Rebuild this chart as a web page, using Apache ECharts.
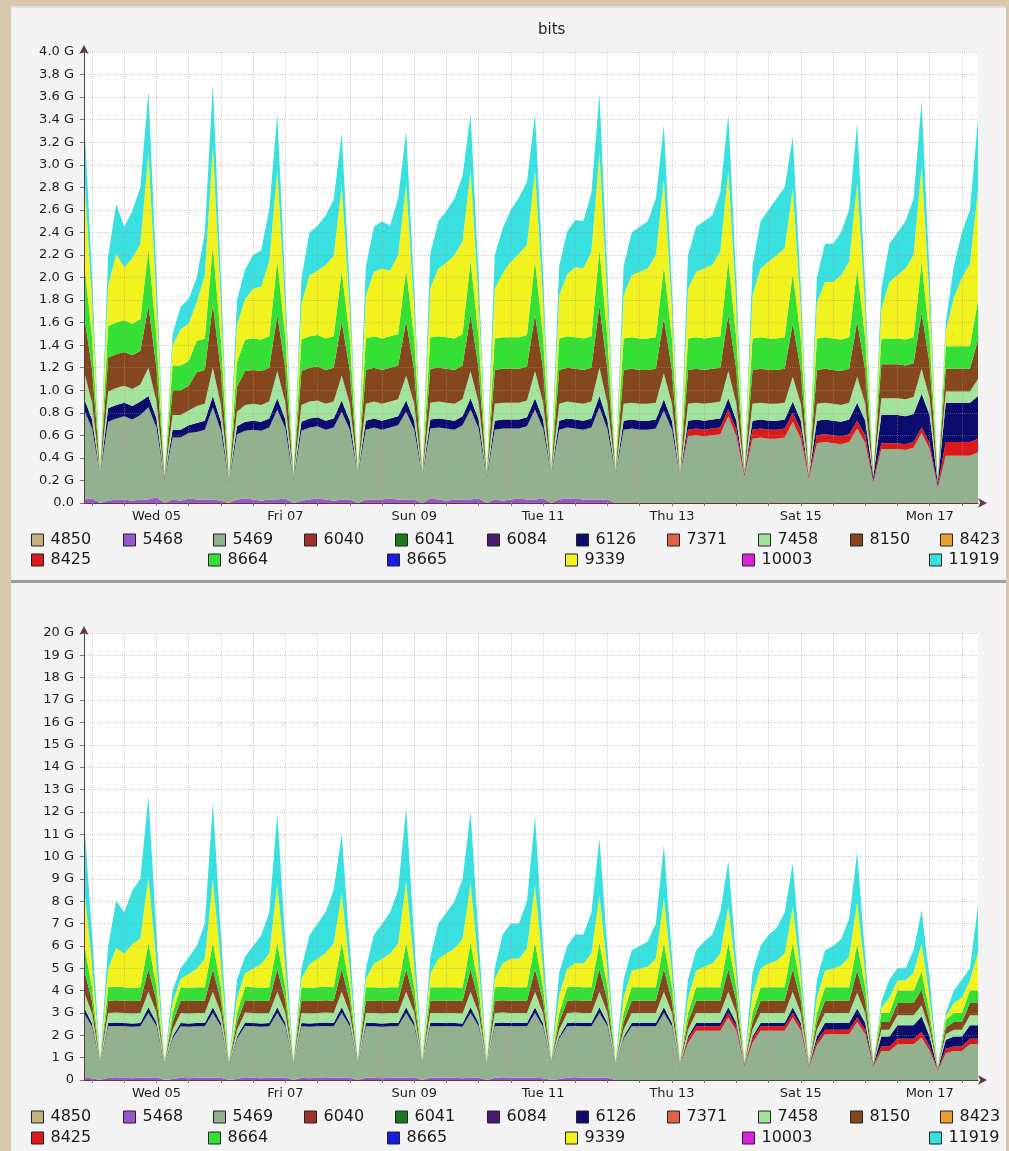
<!DOCTYPE html>
<html><head><meta charset="utf-8">
<script src="https://cdn.jsdelivr.net/npm/echarts@6/dist/echarts.min.js"></script>
<style>
html,body{margin:0;padding:0;width:1009px;height:1151px;overflow:hidden;background:#d6c8ad;}
.panel{position:absolute;background:#f3f3f3;}
#p1{left:11px;top:6px;width:995px;height:572px;border-top:2px solid #e0e0e0;border-bottom:3px solid #9c9c9c;}
#p2{left:11px;top:583px;width:995px;height:568px;}
#chart{position:absolute;left:0;top:0;width:1009px;height:1151px;}
</style></head><body>
<div class="panel" id="p1"></div><div class="panel" id="p2"></div>
<div id="chart"></div>
<script>
// ---- time categories (3-hourly samples) ----
const DAY_NAMES = ['Tue 04','Wed 05','Thu 06','Fri 07','Sat 08','Sun 09','Mon 10','Tue 11','Wed 12','Thu 13','Fri 14','Sat 15','Sun 16','Mon 17','Tue 18'];
const SAMPLE_HOURS = ['00','03','06','09','12','15','18','21'];
const X_LABEL_DAYS = ['Wed 05','Fri 07','Sun 09','Tue 11','Thu 13','Sat 15','Mon 17'];

// ---- top chart (G bits) ----
const t_5468 = [0.03,0.04,0,0.02,0.03,
 0.03,0.02,0.03,0.03,0.05,0,0.03,0.02,
 0.04,0.03,0.03,0.03,0.02,0,0.03,0.04,
 0.03,0.02,0.03,0.03,0.04,0,0.02,0.03,
 0.04,0.03,0.02,0.03,0.03,0,0.03,0.03,
 0.03,0.04,0.03,0.03,0.03,0,0.04,0.03,
 0.02,0.03,0.03,0.03,0.04,0,0.03,0.02,
 0.03,0.04,0.03,0.03,0.04,0,0.03,0.04,
 0.04,0.03,0.03,0.03,0.03,0,0,0,
 0,0,0,0,0,0,0,0,
 0,0,0,0,0,0,0,0,
 0,0,0,0,0,0,0,0,
 0,0,0,0,0,0,0,0,
 0,0,0,0,0,0,0,0,
 0,0,0];
const t_5469 = [0.80,0.62,0.25,0.70,0.72,
 0.74,0.72,0.75,0.82,0.62,0.20,0.55,0.56,
 0.58,0.60,0.62,0.82,0.62,0.18,0.58,0.60,
 0.62,0.62,0.64,0.80,0.62,0.20,0.62,0.64,
 0.64,0.62,0.65,0.78,0.62,0.25,0.62,0.64,
 0.62,0.63,0.66,0.78,0.62,0.23,0.62,0.64,
 0.64,0.62,0.66,0.80,0.62,0.22,0.62,0.64,
 0.63,0.62,0.65,0.80,0.62,0.25,0.62,0.63,
 0.62,0.62,0.64,0.82,0.62,0.25,0.65,0.66,
 0.65,0.65,0.66,0.82,0.65,0.23,0.59,0.60,
 0.59,0.60,0.61,0.77,0.59,0.23,0.57,0.58,
 0.57,0.57,0.58,0.72,0.57,0.21,0.53,0.54,
 0.53,0.52,0.54,0.66,0.53,0.18,0.48,0.48,
 0.48,0.47,0.49,0.62,0.48,0.13,0.42,0.42,
 0.42,0.42,0.45];
const t_8425 = [0,0,0,0,0,
 0,0,0,0,0,0,0,0,
 0,0,0,0,0,0,0,0,
 0,0,0,0,0,0,0,0,
 0,0,0,0,0,0,0,0,
 0,0,0,0,0,0,0,0,
 0,0,0,0,0,0,0,0,
 0,0,0,0,0,0,0,0,
 0,0,0,0,0,0,0,0,
 0,0,0,0,0,0,0.06,0.06,
 0.06,0.06,0.06,0.06,0.06,0.02,0.08,0.08,
 0.08,0.08,0.08,0.08,0.08,0.02,0.07,0.07,
 0.07,0.07,0.07,0.07,0.07,0.02,0.05,0.05,
 0.05,0.05,0.05,0.05,0.05,0.02,0.12,0.12,
 0.12,0.12,0.12];
const t_6126 = [0.10,0.08,0.01,0.12,0.12,
 0.12,0.12,0.12,0.10,0.08,0.01,0.07,0.07,
 0.07,0.08,0.08,0.10,0.08,0.01,0.07,0.08,
 0.08,0.08,0.08,0.10,0.08,0.01,0.08,0.08,
 0.08,0.08,0.08,0.10,0.08,0.01,0.08,0.08,
 0.08,0.08,0.08,0.10,0.08,0.01,0.08,0.08,
 0.08,0.08,0.08,0.10,0.08,0.01,0.08,0.08,
 0.08,0.08,0.08,0.10,0.08,0.01,0.08,0.08,
 0.08,0.08,0.08,0.10,0.08,0.01,0.08,0.08,
 0.08,0.08,0.08,0.10,0.08,0.01,0.08,0.08,
 0.08,0.08,0.08,0.10,0.08,0.01,0.08,0.08,
 0.08,0.08,0.08,0.10,0.08,0.01,0.13,0.13,
 0.13,0.13,0.13,0.16,0.13,0.03,0.25,0.25,
 0.25,0.25,0.25,0.30,0.25,0.03,0.35,0.35,
 0.35,0.35,0.38];
const t_7458 = [0.24,0.15,0.01,0.15,0.15,
 0.15,0.15,0.15,0.25,0.15,0.01,0.13,0.13,
 0.13,0.15,0.15,0.25,0.15,0.01,0.13,0.15,
 0.15,0.15,0.15,0.24,0.15,0.01,0.15,0.15,
 0.15,0.15,0.15,0.22,0.15,0.01,0.15,0.15,
 0.15,0.15,0.15,0.22,0.15,0.01,0.15,0.15,
 0.15,0.15,0.15,0.24,0.15,0.01,0.15,0.15,
 0.15,0.15,0.15,0.24,0.15,0.01,0.15,0.15,
 0.15,0.15,0.15,0.25,0.15,0.01,0.15,0.15,
 0.15,0.15,0.15,0.23,0.15,0.01,0.15,0.15,
 0.15,0.15,0.15,0.24,0.15,0.01,0.15,0.15,
 0.15,0.15,0.15,0.22,0.15,0.01,0.15,0.15,
 0.15,0.15,0.15,0.23,0.15,0.01,0.15,0.15,
 0.15,0.15,0.15,0.22,0.15,0.01,0.10,0.10,
 0.10,0.10,0.15];
const t_8150 = [0.50,0.30,0.01,0.30,0.30,
 0.30,0.30,0.30,0.55,0.30,0.01,0.22,0.22,
 0.22,0.30,0.30,0.56,0.30,0.01,0.22,0.30,
 0.30,0.30,0.30,0.50,0.30,0.01,0.30,0.30,
 0.30,0.30,0.30,0.48,0.30,0.01,0.30,0.30,
 0.30,0.30,0.30,0.48,0.30,0.01,0.30,0.30,
 0.30,0.30,0.30,0.50,0.30,0.01,0.30,0.30,
 0.30,0.30,0.30,0.50,0.30,0.01,0.30,0.30,
 0.30,0.30,0.30,0.55,0.30,0.01,0.30,0.30,
 0.30,0.30,0.30,0.49,0.30,0.01,0.30,0.30,
 0.30,0.30,0.30,0.50,0.30,0.01,0.30,0.30,
 0.30,0.30,0.30,0.47,0.30,0.01,0.30,0.30,
 0.30,0.30,0.30,0.49,0.30,0.01,0.30,0.30,
 0.30,0.30,0.30,0.50,0.30,0.01,0.20,0.20,
 0.20,0.20,0.35];
const t_8664 = [0.48,0.28,0.01,0.28,0.28,
 0.28,0.28,0.28,0.50,0.28,0.01,0.22,0.22,
 0.22,0.28,0.28,0.52,0.28,0.01,0.22,0.28,
 0.28,0.28,0.28,0.48,0.28,0.01,0.28,0.28,
 0.28,0.28,0.28,0.45,0.28,0.01,0.28,0.28,
 0.28,0.28,0.28,0.46,0.28,0.01,0.28,0.28,
 0.28,0.28,0.28,0.48,0.28,0.01,0.28,0.28,
 0.28,0.28,0.28,0.48,0.28,0.01,0.28,0.28,
 0.28,0.28,0.28,0.50,0.28,0.01,0.28,0.28,
 0.28,0.28,0.28,0.46,0.28,0.01,0.28,0.28,
 0.28,0.28,0.28,0.48,0.28,0.01,0.28,0.28,
 0.28,0.28,0.28,0.45,0.28,0.01,0.28,0.28,
 0.28,0.28,0.28,0.46,0.28,0.01,0.23,0.23,
 0.23,0.23,0.23,0.45,0.23,0.01,0.20,0.20,
 0.20,0.20,0.35];
const t_9339 = [0.80,0.32,0.01,0.36,0.61,
 0.47,0.58,0.67,0.85,0.32,0.01,0.18,0.32,
 0.33,0.34,0.56,0.88,0.32,0.01,0.33,0.36,
 0.44,0.47,0.66,0.80,0.26,0.01,0.32,0.54,
 0.57,0.65,0.71,0.75,0.26,0.01,0.38,0.57,
 0.62,0.58,0.70,0.76,0.26,0.01,0.44,0.60,
 0.66,0.74,0.82,0.80,0.32,0.01,0.44,0.57,
 0.67,0.74,0.80,0.80,0.32,0.01,0.38,0.55,
 0.62,0.62,0.75,0.85,0.32,0.01,0.38,0.55,
 0.59,0.62,0.73,0.77,0.26,0.01,0.44,0.58,
 0.62,0.64,0.75,0.80,0.29,0.01,0.38,0.61,
 0.68,0.74,0.79,0.75,0.26,0.01,0.32,0.49,
 0.50,0.57,0.67,0.77,0.26,0.01,0.26,0.50,
 0.56,0.63,0.73,0.85,0.32,0.01,0.13,0.43,
 0.61,0.73,0.98];
const t_11919 = [0.50,0.22,0,0.26,0.44,
 0.36,0.42,0.50,0.55,0.22,0,0.10,0.20,
 0.22,0.22,0.38,0.56,0.22,0,0.22,0.26,
 0.30,0.32,0.46,0.50,0.18,0,0.22,0.38,
 0.40,0.44,0.50,0.47,0.18,0,0.26,0.40,
 0.42,0.40,0.50,0.47,0.18,0,0.30,0.42,
 0.46,0.50,0.58,0.50,0.22,0,0.30,0.40,
 0.46,0.50,0.56,0.50,0.22,0,0.26,0.38,
 0.42,0.42,0.52,0.53,0.22,0,0.26,0.38,
 0.40,0.42,0.50,0.48,0.18,0,0.30,0.40,
 0.42,0.44,0.52,0.50,0.20,0,0.26,0.42,
 0.46,0.50,0.54,0.46,0.18,0,0.22,0.34,
 0.34,0.38,0.46,0.53,0.18,0,0.18,0.34,
 0.38,0.42,0.50,0.58,0.22,0,0.08,0.28,
 0.40,0.48,0.62];

// ---- bottom chart (G bits) ----
const b_5468 = [0.10,0.08,0,0.10,0.12,
 0.10,0.08,0.10,0.10,0.12,0,0.05,0.10,
 0.08,0.10,0.10,0.10,0.10,0,0.05,0.12,
 0.10,0.08,0.10,0.10,0.10,0,0.10,0.08,
 0.10,0.12,0.10,0.10,0.10,0,0.10,0.10,
 0.08,0.10,0.10,0.10,0.12,0,0.10,0.10,
 0.10,0.10,0.08,0.10,0.10,0,0.10,0.12,
 0.10,0.10,0.10,0.10,0.08,0,0.05,0.10,
 0.12,0.10,0.10,0.10,0.10,0,0,0,
 0,0,0,0,0,0,0,0,
 0,0,0,0,0,0,0,0,
 0,0,0,0,0,0,0,0,
 0,0,0,0,0,0,0,0,
 0,0,0,0,0,0,0,0,
 0,0,0];
const b_5469 = [2.90,2.30,0.75,2.30,2.30,
 2.30,2.30,2.30,2.90,2.30,0.70,1.80,2.30,
 2.30,2.30,2.30,2.90,2.30,0.65,1.80,2.30,
 2.30,2.30,2.30,2.90,2.30,0.70,2.30,2.30,
 2.30,2.30,2.30,2.90,2.30,0.75,2.30,2.30,
 2.30,2.30,2.30,2.90,2.30,0.75,2.30,2.30,
 2.30,2.30,2.30,2.90,2.30,0.70,2.30,2.30,
 2.30,2.30,2.30,2.90,2.30,0.75,1.80,2.30,
 2.30,2.30,2.30,2.90,2.30,0.70,1.85,2.40,
 2.40,2.40,2.40,3.00,2.40,0.65,1.65,2.20,
 2.20,2.20,2.20,2.80,2.20,0.60,1.65,2.20,
 2.20,2.20,2.20,2.80,2.20,0.55,1.55,2.05,
 2.05,2.05,2.05,2.60,2.05,0.60,1.30,1.30,
 1.60,1.60,1.60,1.90,1.30,0.40,1.20,1.30,
 1.30,1.60,1.60];
const b_8425 = [0,0,0,0,0,
 0,0,0,0,0,0,0,0,
 0,0,0,0,0,0,0,0,
 0,0,0,0,0,0,0,0,
 0,0,0,0,0,0,0,0,
 0,0,0,0,0,0,0,0,
 0,0,0,0,0,0,0,0,
 0,0,0,0,0,0,0,0,
 0,0,0,0,0,0,0,0,
 0,0,0,0,0,0,0.20,0.20,
 0.20,0.20,0.20,0.20,0.20,0.05,0.20,0.20,
 0.20,0.20,0.20,0.20,0.20,0.05,0.20,0.20,
 0.20,0.20,0.20,0.20,0.20,0.05,0.20,0.20,
 0.25,0.25,0.25,0.25,0.20,0.05,0.20,0.20,
 0.20,0.25,0.25];
const b_6126 = [0.25,0.15,0.03,0.15,0.15,
 0.15,0.15,0.15,0.25,0.15,0.03,0.10,0.15,
 0.15,0.15,0.15,0.25,0.15,0.03,0.10,0.15,
 0.15,0.15,0.15,0.25,0.15,0.03,0.15,0.15,
 0.15,0.15,0.15,0.25,0.15,0.03,0.15,0.15,
 0.15,0.15,0.15,0.25,0.15,0.03,0.15,0.15,
 0.15,0.15,0.15,0.25,0.15,0.03,0.15,0.15,
 0.15,0.15,0.15,0.25,0.15,0.03,0.10,0.15,
 0.15,0.15,0.15,0.25,0.15,0.03,0.10,0.15,
 0.15,0.15,0.15,0.25,0.15,0.03,0.10,0.15,
 0.15,0.15,0.15,0.25,0.15,0.03,0.10,0.15,
 0.15,0.15,0.15,0.25,0.15,0.03,0.20,0.30,
 0.30,0.30,0.30,0.40,0.30,0.03,0.45,0.45,
 0.60,0.60,0.60,0.70,0.45,0.03,0.40,0.45,
 0.45,0.60,0.60];
const b_7458 = [0.70,0.45,0.03,0.45,0.45,
 0.45,0.45,0.45,0.70,0.45,0.03,0.30,0.45,
 0.45,0.45,0.45,0.70,0.45,0.03,0.30,0.45,
 0.45,0.45,0.45,0.70,0.45,0.03,0.45,0.45,
 0.45,0.45,0.45,0.70,0.45,0.03,0.45,0.45,
 0.45,0.45,0.45,0.70,0.45,0.03,0.45,0.45,
 0.45,0.45,0.45,0.70,0.45,0.03,0.45,0.45,
 0.45,0.45,0.45,0.70,0.45,0.03,0.30,0.45,
 0.45,0.45,0.45,0.70,0.45,0.03,0.30,0.45,
 0.45,0.45,0.45,0.70,0.45,0.03,0.30,0.45,
 0.45,0.45,0.45,0.70,0.45,0.03,0.30,0.45,
 0.45,0.45,0.45,0.70,0.45,0.03,0.30,0.45,
 0.45,0.45,0.45,0.70,0.45,0.03,0.30,0.30,
 0.45,0.45,0.45,0.50,0.30,0.03,0.25,0.30,
 0.30,0.45,0.45];
const b_8150 = [1.00,0.55,0.03,0.55,0.55,
 0.55,0.55,0.55,1.00,0.55,0.03,0.35,0.55,
 0.55,0.55,0.55,1.00,0.55,0.03,0.35,0.55,
 0.55,0.55,0.55,1.00,0.55,0.03,0.55,0.55,
 0.55,0.55,0.55,1.00,0.55,0.03,0.55,0.55,
 0.55,0.55,0.55,1.00,0.55,0.03,0.55,0.55,
 0.55,0.55,0.55,1.00,0.55,0.03,0.55,0.55,
 0.55,0.55,0.55,1.00,0.55,0.03,0.35,0.55,
 0.55,0.55,0.55,1.00,0.55,0.03,0.35,0.55,
 0.55,0.55,0.55,1.00,0.55,0.03,0.35,0.55,
 0.55,0.55,0.55,1.00,0.55,0.03,0.35,0.55,
 0.55,0.55,0.55,1.00,0.55,0.03,0.35,0.55,
 0.55,0.55,0.55,1.00,0.55,0.03,0.35,0.35,
 0.55,0.55,0.55,0.70,0.35,0.03,0.30,0.35,
 0.35,0.55,0.55];
const b_8664 = [1.20,0.60,0.03,0.60,0.60,
 0.60,0.60,0.60,1.20,0.60,0.03,0.40,0.60,
 0.60,0.60,0.60,1.20,0.60,0.03,0.40,0.60,
 0.60,0.60,0.60,1.20,0.60,0.03,0.60,0.60,
 0.60,0.60,0.60,1.20,0.60,0.03,0.60,0.60,
 0.60,0.60,0.60,1.20,0.60,0.03,0.60,0.60,
 0.60,0.60,0.60,1.20,0.60,0.03,0.60,0.60,
 0.60,0.60,0.60,1.20,0.60,0.03,0.40,0.60,
 0.60,0.60,0.60,1.20,0.60,0.03,0.40,0.60,
 0.60,0.60,0.60,1.20,0.60,0.03,0.40,0.60,
 0.60,0.60,0.60,1.20,0.60,0.03,0.40,0.60,
 0.60,0.60,0.60,1.20,0.60,0.03,0.40,0.60,
 0.60,0.60,0.60,1.20,0.60,0.03,0.40,0.40,
 0.55,0.55,0.55,0.80,0.40,0.03,0.35,0.40,
 0.40,0.55,0.55];
const b_9339 = [2.50,1.06,0.03,0.83,1.73,
 1.51,1.96,2.18,2.95,1.06,0.03,0.45,0.38,
 0.61,0.83,1.28,2.81,1.06,0.03,0.68,0.61,
 0.83,1.06,1.51,2.59,0.92,0.03,0.38,1.06,
 1.28,1.51,1.96,2.18,0.83,0.03,0.38,1.06,
 1.28,1.51,1.96,2.72,0.97,0.03,0.61,1.28,
 1.51,1.73,2.18,2.63,0.97,0.03,0.38,1.06,
 1.28,1.28,1.73,2.54,0.83,0.03,0.81,0.83,
 1.06,1.06,1.51,2.09,0.74,0.03,0.68,0.74,
 0.83,0.92,1.28,1.96,0.61,0.03,0.68,0.74,
 0.92,1.06,1.51,1.64,0.52,0.03,0.81,0.83,
 1.06,1.19,1.51,1.60,0.52,0.03,0.68,0.74,
 0.83,0.97,1.37,1.85,0.61,0.03,0.23,0.68,
 0.45,0.45,0.81,1.24,0.68,0.03,0.14,0.45,
 0.68,0.45,1.71];
const b_11919 = [3.05,1.29,0,1.02,2.12,
 1.84,2.39,2.67,3.60,1.29,0,0.55,0.47,
 0.74,1.02,1.57,3.44,1.29,0,0.82,0.74,
 1.02,1.29,1.84,3.16,1.13,0,0.47,1.29,
 1.57,1.84,2.39,2.67,1.02,0,0.47,1.29,
 1.57,1.84,2.39,3.33,1.18,0,0.74,1.57,
 1.84,2.12,2.67,3.22,1.18,0,0.47,1.29,
 1.57,1.57,2.12,3.11,1.02,0,0.99,1.02,
 1.29,1.29,1.84,2.56,0.91,0,0.82,0.91,
 1.02,1.13,1.57,2.39,0.74,0,0.82,0.91,
 1.13,1.29,1.84,2.01,0.63,0,0.99,1.02,
 1.29,1.46,1.84,1.95,0.63,0,0.82,0.91,
 1.02,1.18,1.68,2.25,0.74,0,0.27,0.82,
 0.55,0.55,0.99,1.51,0.82,0,0.16,0.55,
 0.82,0.55,2.09];

// ---- y tick settings ----
const TOP_Y = {min: 0, max: 4, interval: 0.2};
const BOT_Y = {min: 0, max: 20, interval: 1};

// ---- legend / colours ----
const COLORS = {
  '4850':'#c4b27e','5468':'#9a55c9','5469':'#92b28f','6040':'#a0302a','6041':'#1e7a1e','6084':'#4b1a70',
  '6126':'#0c0c6e','7371':'#e0604a','7458':'#a2e49c','8150':'#85481e','8423':'#e8a030','8425':'#dd1a1a',
  '8664':'#35e035','8665':'#1a1ae0','9339':'#f2f21e','10003':'#dd22dd','11919':'#38e0e0'
};
const LEG_ROW1 = [['4850',31],['5468',123],['5469',213],['6040',304],['6041',395],['6084',487],['6126',576],['7371',667],['7458',758],['8150',850],['8423',940]];
const LEG_ROW2 = [['8425',31],['8664',208],['8665',387],['9339',565],['10003',742],['11919',929]];

// ---- build ----
const allTimes = [];
DAY_NAMES.forEach(d => SAMPLE_HOURS.forEach(h => allTimes.push(d + ' ' + h)));
const categories = allTimes.slice(3, allTimes.length - 5); // Tue 04 09 .. Tue 18 06

const topData = {'5468':t_5468,'5469':t_5469,'8425':t_8425,'6126':t_6126,'7458':t_7458,'8150':t_8150,'8664':t_8664,'9339':t_9339,'11919':t_11919};
const botData = {'5468':b_5468,'5469':b_5469,'8425':b_8425,'6126':b_6126,'7458':b_7458,'8150':b_8150,'8664':b_8664,'9339':b_9339,'11919':b_11919};
const STACK_ORDER = ['5468','5469','8425','6126','7458','8150','8664','9339','11919'];
const LEGEND_ONLY = ['4850','6040','6041','6084','7371','8423','8665','10003'];

const FONT = 'DejaVu Sans';
const isGridTime = v => { const h = String(v).slice(-2); return h === '00' || h === '12'; };
const isLabelTime = v => String(v).slice(-2) === '12' && X_LABEL_DAYS.indexOf(String(v).slice(0,6)) >= 0;

function xAxisFor(g) {
  return {
    type:'category', gridIndex:g, data:categories, boundaryGap:false, z:5,
    axisLine:{show:true, onZero:false, symbol:['none','arrow'], symbolSize:[7,9], symbolOffset:[0,9], lineStyle:{color:'#5b3b3b', width:1}},
    axisTick:{show:true, interval:(i,v)=>isGridTime(v), length:3, lineStyle:{color:'#777'}},
    axisLabel:{interval:(i,v)=>isLabelTime(v), formatter:v=>String(v).slice(0,6), color:'#1e1e1e', fontSize:13, fontFamily:FONT, margin:7},
    splitLine:{show:true, interval:(i,v)=>isGridTime(v), lineStyle:{color:['rgba(150,150,150,0.45)','rgba(220,130,130,0.5)','rgba(150,150,150,0.45)','rgba(150,150,150,0.45)'], type:'dotted', width:1}}
  };
}
function yAxisFor(g, cfg, fmt) {
  return {
    type:'value', gridIndex:g, min:cfg.min, max:cfg.max, interval:cfg.interval, z:5,
    axisLine:{show:true, symbol:['none','arrow'], symbolSize:[7,9], symbolOffset:[0,7], lineStyle:{color:'#5b3b3b', width:1}},
    axisTick:{show:true, length:4, lineStyle:{color:'#777'}},
    axisLabel:{formatter:fmt, color:'#1e1e1e', fontSize:13, fontFamily:FONT, margin:10},
    splitLine:{show:true, lineStyle:{color:'rgba(150,150,150,0.45)', type:'dotted', width:1}}
  };
}
function seriesFor(g, dataMap) {
  const out = [];
  STACK_ORDER.concat(LEGEND_ONLY).forEach(name => {
    out.push({
      name, type:'line', xAxisIndex:g, yAxisIndex:g, stack:'s'+g, data: dataMap[name] || [],
      symbol:'none', showSymbol:false, silent:true, animation:false, z:2,
      lineStyle:{width:0}, itemStyle:{color:COLORS[name]},
      areaStyle:{color:COLORS[name], opacity:1}, emphasis:{disabled:true}
    });
  });
  return out;
}
function legendsFor(y1, y2) {
  const mk = (name, x, y) => ({
    data:[name], left:x, top:y, orient:'horizontal', padding:0, itemWidth:12, itemHeight:12, icon:'rect',
    selectedMode:false, itemStyle:{borderColor:'#222', borderWidth:1},
    textStyle:{fontSize:16, color:'#1a1a1a', fontFamily:FONT, padding:[0,0,0,2]}
  });
  return LEG_ROW1.map(([n,x]) => mk(n,x,y1)).concat(LEG_ROW2.map(([n,x]) => mk(n,x,y2)));
}

const chart = echarts.init(document.getElementById('chart'), null, {renderer:'canvas'});
chart.setOption({
  animation:false,
  backgroundColor:'transparent',
  title:{text:'bits', left:533, top:18, textStyle:{fontSize:15, fontWeight:'normal', color:'#222', fontFamily:FONT}},
  grid:[
    {left:84, right:31, top:52, height:451, show:true, backgroundColor:'#ffffff', borderWidth:0},
    {left:84, right:31, top:633, height:447, show:true, backgroundColor:'#ffffff', borderWidth:0}
  ],
  xAxis:[xAxisFor(0), xAxisFor(1)],
  yAxis:[
    yAxisFor(0, TOP_Y, v => v === 0 ? '0.0' : v.toFixed(1) + ' G'),
    yAxisFor(1, BOT_Y, v => v === 0 ? '0' : Math.round(v) + ' G')
  ],
  legend: legendsFor(532, 552).concat(legendsFor(1109, 1130)),
  series: seriesFor(0, topData).concat(seriesFor(1, botData))
});
</script></body></html>
